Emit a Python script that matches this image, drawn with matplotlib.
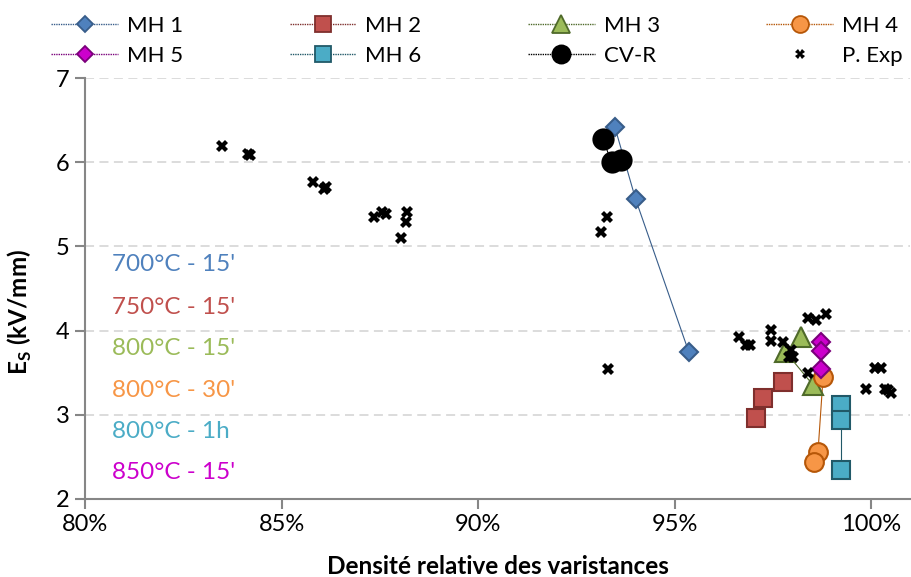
import matplotlib
matplotlib.use('Agg')
import matplotlib.pyplot as plt
from matplotlib.ticker import PercentFormatter, MultipleLocator
from matplotlib.lines import Line2D

plt.rcParams['font.family'] = ['Lato', 'DejaVu Sans']

# Relative density (%) and Es (kV/mm) per series
mh1_x = [93.48, 94.01, 95.36]
mh1_y = [6.42, 5.56, 3.75]
mh2_x = [97.06, 97.26, 97.77]
mh2_y = [2.96, 3.20, 3.39]
mh3_x = [98.22, 97.82, 98.53]
mh3_y = [3.92, 3.75, 3.35]
mh4_x = [98.78, 98.65, 98.55]
mh4_y = [3.45, 2.56, 2.44]
mh5_x = [98.73, 98.73, 98.73]
mh5_y = [3.86, 3.76, 3.54]
mh6_x = [99.24, 99.24, 99.24]
mh6_y = [3.12, 2.94, 2.34]
cvr_x = [93.17, 93.40, 93.63]
cvr_y = [6.28, 6.00, 6.03]

pexp_x = [83.48, 84.14, 84.19, 85.79, 86.07, 86.12, 87.36, 87.56, 87.66,
          88.20, 88.17, 88.05, 93.12, 93.27, 93.30, 96.65, 96.83, 96.93,
          97.46, 97.46, 97.77, 97.97, 98.02, 97.92, 98.40, 98.60, 98.86,
          98.40, 100.10, 100.25, 99.87, 100.36, 100.51, 100.44]
pexp_y = [6.19, 6.10, 6.09, 5.76, 5.68, 5.70, 5.35, 5.41, 5.39,
          5.41, 5.29, 5.10, 5.17, 5.35, 3.54, 3.92, 3.83, 3.83,
          4.01, 3.88, 3.86, 3.77, 3.69, 3.69, 4.15, 4.13, 4.20,
          3.50, 3.56, 3.56, 3.31, 3.31, 3.26, 3.29]

# treatment labels
treat_labels = ["700°C - 15'", "750°C - 15'", "800°C - 15'",
                "800°C - 30'", "800°C - 1h", "850°C - 15'"]
treat_colors = ['#4f81bd', '#c0504d', '#9bbb59', '#f79646', '#4bacc6', '#cc00cc']

series = [
    ('MH 1', mh1_x, mh1_y, 'D', 9.5, '#4f81bd', '#385d8a'),
    ('MH 2', mh2_x, mh2_y, 's', 13.5, '#c0504d', '#7f2f2d'),
    ('MH 3', mh3_x, mh3_y, '^', 14, '#9bbb59', '#4f6a2a'),
    ('MH 4', mh4_x, mh4_y, 'o', 13.5, '#f79646', '#b65708'),
    ('MH 5', mh5_x, mh5_y, 'D', 9.5, '#cc00cc', '#7a007a'),
    ('MH 6', mh6_x, mh6_y, 's', 13.5, '#4bacc6', '#215968'),
    ('CV-R', cvr_x, cvr_y, 'o', 14.5, 'black', 'black'),
]

fig = plt.figure(figsize=(9.12, 5.77), dpi=100)
ax = fig.add_axes([0.0932, 0.1352, 0.905, 0.7296])

handles = {}
for name, xs, ys, mk, ms, fc, ec in series:
    ax.plot(xs, ys, linestyle='-', color=ec, linewidth=0.8, zorder=2)
    ax.plot(xs, ys, linestyle='none', marker=mk, markersize=ms,
            markerfacecolor=fc, markeredgecolor=ec, markeredgewidth=1.5, zorder=3)
    handles[name] = Line2D([], [], linestyle=(0, (1, 0.7)), color=ec, linewidth=1.0,
                           marker=mk, markersize=ms * 0.9, markerfacecolor=fc,
                           markeredgecolor=ec, markeredgewidth=1.3, label=name)

ax.plot(pexp_x, pexp_y, linestyle='none', marker='X', markersize=8,
        color='black', markeredgewidth=0, zorder=4)
handles['P. Exp'] = Line2D([], [], linestyle='none', marker='X', markersize=7,
                           color='black', markeredgewidth=0, label='P. Exp')

# annotation labels for treatments
ty = [4.78, 4.28, 3.79, 3.29, 2.80, 2.31]
for lab, col, yy in zip(treat_labels, treat_colors, ty):
    ax.text(80.69, yy, lab, color=col, fontsize=17.5, va='center', ha='left')

ax.set_xlim(80, 101)
ax.set_ylim(2, 7)
ax.xaxis.set_major_locator(MultipleLocator(5))
ax.yaxis.set_major_locator(MultipleLocator(1))
ax.xaxis.set_major_formatter(PercentFormatter(100, decimals=0))

ax.grid(axis='y', color='#d9d9d9', linestyle=(0, (5, 3)), linewidth=1.3)
ax.set_axisbelow(True)
for s in ['top', 'right']:
    ax.spines[s].set_visible(False)
for s in ['left', 'bottom']:
    ax.spines[s].set_color('#868686')
    ax.spines[s].set_linewidth(1.5)
ax.tick_params(axis='both', direction='out', length=7, width=1.5, color='#868686',
               labelsize=17, pad=4)

ax.set_xlabel('Densité relative des varistances', fontsize=17.5, fontweight='bold',
              labelpad=14)
fig.text(20 / 912, 1 - 312 / 577, r'E$_\mathregular{S}$ (kV/mm)', rotation=90,
         fontsize=17.5, fontweight='bold', ha='center', va='center')

# legend is filled column by column, so order gives two rows of four
order = ['MH 1', 'MH 5', 'MH 2', 'MH 6', 'MH 3', 'CV-R', 'MH 4', 'P. Exp']
fig.legend(handles=[handles[k] for k in order], loc='upper center',
           bbox_to_anchor=(477 / 912, 1.0),
           ncol=4, frameon=False, fontsize=16, handlelength=3.0, handletextpad=0.4,
           columnspacing=4.8, labelspacing=0.45, borderaxespad=0.3)

fig.savefig('out.png', dpi=100)
